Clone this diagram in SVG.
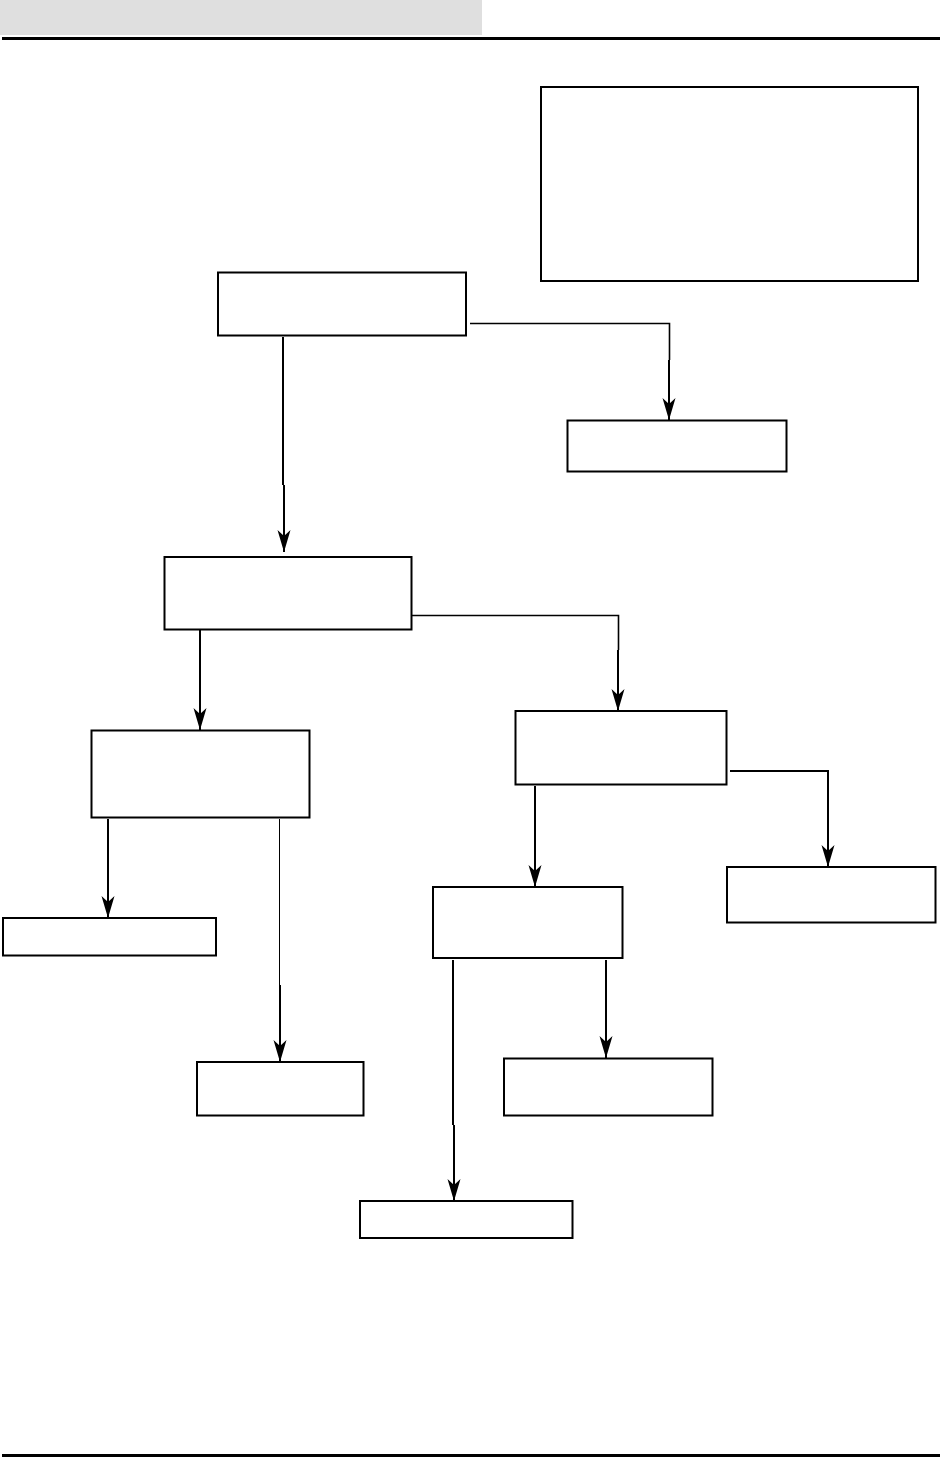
<svg xmlns="http://www.w3.org/2000/svg" width="942" height="1458" viewBox="0 0 942 1458">
<style>
.box{fill:#fff;stroke:#000;stroke-width:2}
.c{fill:none;stroke:#000;stroke-width:2}
.m{fill:none;stroke:#000;stroke-width:1.6}
.t{fill:none;stroke:#000;stroke-width:1}
</style>
<defs>
<marker id="ah" markerUnits="userSpaceOnUse" markerWidth="24" markerHeight="14" refX="22" refY="7" orient="auto" viewBox="0 0 24 14">
<path d="M0,0.5 L22,7 L0,13.5 L6,7 z" fill="#000"/>
</marker>
</defs>
<rect width="942" height="1458" fill="#fff"/>
<g id="header">
<rect x="0" y="0" width="482" height="35" fill="#dfdfdf"/>
<line x1="2" y1="38.5" x2="940" y2="38.5" stroke="#000" stroke-width="3"/>
<line x1="2" y1="1455.5" x2="940" y2="1455.5" stroke="#000" stroke-width="3"/>
</g>
<g id="connectors">
<path class="c" d="M283,337 V485"/>
<path class="c" d="M284,485 V552" marker-end="url(#ah)"/>
<path class="m" d="M470,323.5 H669.5 V360"/>
<path class="c" d="M669,360 V420" marker-end="url(#ah)"/>
<path class="c" d="M200,630 V730" marker-end="url(#ah)"/>
<path class="m" d="M412,615.5 H618.5 V650"/>
<path class="c" d="M618,650 V711" marker-end="url(#ah)"/>
<path class="c" d="M108,819 V918" marker-end="url(#ah)"/>
<path class="t" d="M279.5,819 V985"/>
<path class="c" d="M280,985 V1062" marker-end="url(#ah)"/>
<path class="c" d="M535,786 V887" marker-end="url(#ah)"/>
<path class="c" d="M730,771 H828 V867" marker-end="url(#ah)"/>
<path class="c" d="M453,960 V1125"/>
<path class="c" d="M454,1125 V1201" marker-end="url(#ah)"/>
<path class="c" d="M606,960 V1058" marker-end="url(#ah)"/>
</g>
<g id="note"><rect class="box" x="541" y="87" width="377" height="194"/></g>
<g id="n1"><rect class="box" x="218" y="272.5" width="248" height="63"/></g>
<g id="n2"><rect class="box" x="567.5" y="420.5" width="219" height="51"/></g>
<g id="n3"><rect class="box" x="164.5" y="557" width="247" height="72.5"/></g>
<g id="n4"><rect class="box" x="91.5" y="730.5" width="218" height="87"/></g>
<g id="n5"><rect class="box" x="515.5" y="711" width="211" height="73.5"/></g>
<g id="n6"><rect class="box" x="3" y="918" width="213" height="37.5"/></g>
<g id="n7"><rect class="box" x="727" y="867" width="208.5" height="55.5"/></g>
<g id="n8"><rect class="box" x="433" y="887" width="189.5" height="71"/></g>
<g id="n9"><rect class="box" x="197" y="1062" width="166.5" height="53.5"/></g>
<g id="n10"><rect class="box" x="504" y="1058.5" width="208.5" height="57"/></g>
<g id="n11"><rect class="box" x="360" y="1201" width="212.5" height="37"/></g>
</svg>
